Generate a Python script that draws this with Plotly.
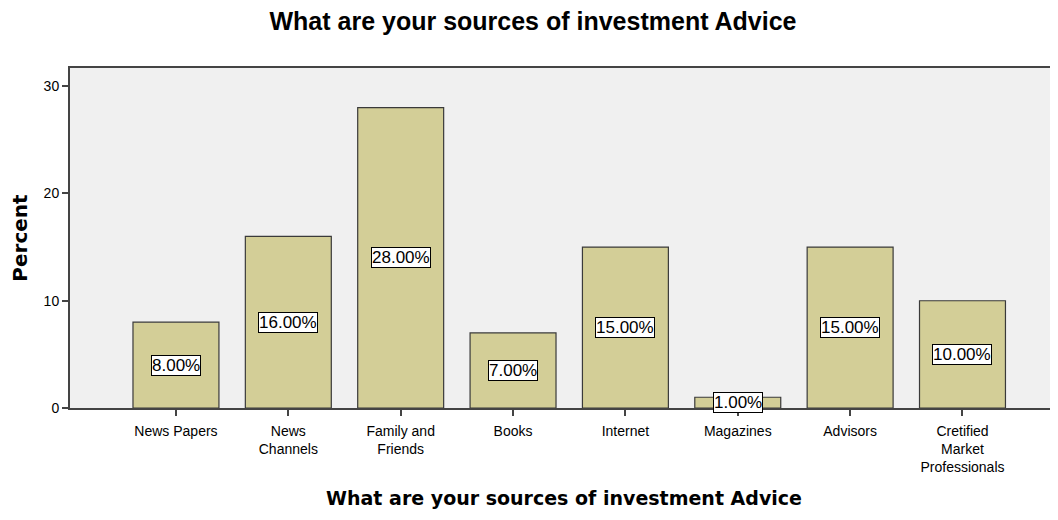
import plotly.graph_objects as go

categories = ["News Papers", "News<br>Channels", "Family and<br>Friends", "Books",
              "Internet", "Magazines", "Advisors", "Cretified<br>Market<br>Professionals"]
percent = [8, 16, 28, 7, 15, 1, 15, 10]
value_labels = ["8.00%", "16.00%", "28.00%", "7.00%", "15.00%", "1.00%", "15.00%", "10.00%"]

FONT = "Liberation Sans, Arial, sans-serif"
BOLD2 = "DejaVu Sans, Verdana, sans-serif"

fig = go.Figure()
fig.add_trace(go.Bar(
    x=categories, y=percent, width=0.765,
    marker=dict(color="#d3ce97", line=dict(color="#3a3a3a", width=1.2)),
    hoverinfo="skip", showlegend=False,
))

for c, v, t in zip(categories, percent, value_labels):
    fig.add_annotation(x=c, y=v / 2, text=t, showarrow=False,
                       font=dict(family=FONT, size=17, color="#000"),
                       bgcolor="#ffffff", bordercolor="#000000", borderwidth=1, borderpad=0)

fig.update_layout(
    width=1050, height=512,
    margin=dict(l=62, r=0, t=60, b=112),
    paper_bgcolor="#ffffff", plot_bgcolor="#f0f0f0",
    font=dict(family=FONT, size=14, color="#000"),
    title=dict(text="<b>What are your sources of investment Advice</b>",
               x=0.5, xanchor="center", y=0.975, yanchor="middle",
               font=dict(family=FONT, size=25, color="#000")),
)
fig.update_xaxes(
    type="category", range=[-0.943, 7.85],
    showline=True, linecolor="#444", linewidth=2, mirror=True,
    ticks="outside", ticklen=6, tickcolor="#444", tickwidth=1.5,
    ticklabelstandoff=3,
    showgrid=False, zeroline=False,
    tickfont=dict(family=FONT, size=14, color="#000"),
    title=dict(text="<b>What are your sources of investment Advice</b>",
               font=dict(family=BOLD2, size=19, color="#000"), standoff=17),
)
fig.update_yaxes(
    range=[0, 31.7], tickvals=[0, 10, 20, 30],
    showline=True, linecolor="#444", linewidth=2,
    ticks="outside", ticklen=6, tickcolor="#444", tickwidth=1.5,
    showgrid=False, zeroline=False,
    tickfont=dict(family=FONT, size=14, color="#000"),
    title=dict(text="<b>Percent</b>", font=dict(family=BOLD2, size=20, color="#000"), standoff=13),
)

fig.write_html("out.html")
